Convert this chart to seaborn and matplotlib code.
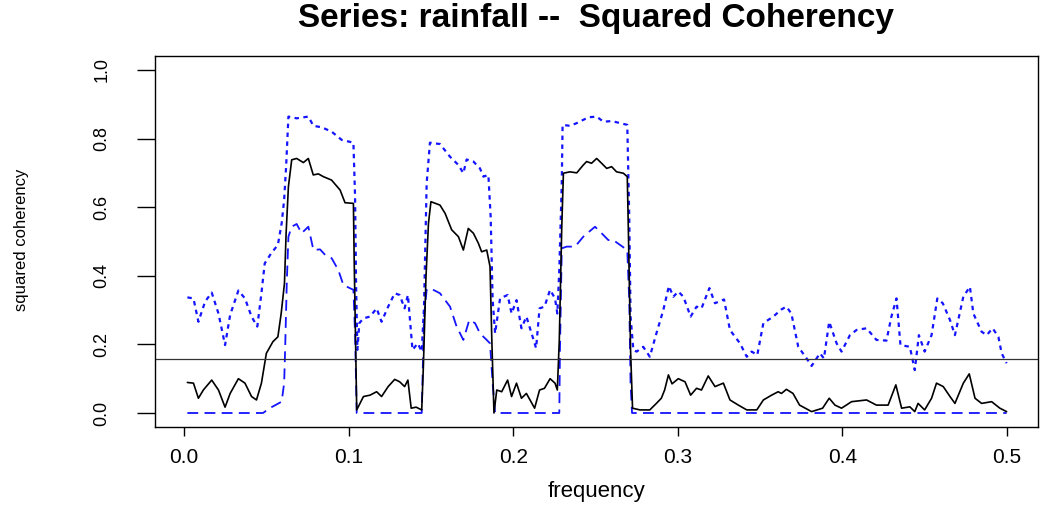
import matplotlib
matplotlib.use("Agg")
import matplotlib.pyplot as plt
import seaborn as sns
import pandas as pd

# ---- data ----
coh_freq = [0.002, 0.0057, 0.0087, 0.0117, 0.0168, 0.0209, 0.0249, 0.028, 0.033, 0.037,
            0.041, 0.044, 0.047, 0.050, 0.054, 0.057, 0.059, 0.061, 0.062, 0.0634,
            0.0654, 0.0684, 0.0725, 0.0755, 0.0785, 0.0816, 0.0846, 0.0896, 0.0948, 0.0978,
            0.1029, 0.1033, 0.1049, 0.109, 0.113, 0.117, 0.120, 0.124, 0.128, 0.131,
            0.134, 0.136, 0.138, 0.141, 0.1444, 0.1454, 0.147, 0.1485, 0.150, 0.1555,
            0.1586, 0.1626, 0.1667, 0.1697, 0.1727, 0.1758, 0.1788, 0.1808, 0.1839, 0.1859,
            0.187, 0.1883, 0.190, 0.193, 0.1966, 0.199, 0.202, 0.205, 0.208, 0.213,
            0.216, 0.219, 0.2224, 0.2254, 0.2268, 0.228, 0.2295, 0.2305, 0.2345, 0.2386,
            0.2426, 0.2446, 0.2476, 0.2507, 0.2537, 0.2568, 0.2598, 0.2628, 0.2669, 0.2693,
            0.270, 0.2713, 0.2725, 0.277, 0.283, 0.287, 0.290, 0.292, 0.2943, 0.2965,
            0.3003, 0.3044, 0.3078, 0.3114, 0.3144, 0.3185, 0.3226, 0.3277, 0.3317, 0.3368,
            0.3419, 0.348, 0.352, 0.357, 0.361, 0.363, 0.366, 0.370, 0.374, 0.3813,
            0.388, 0.392, 0.3955, 0.3995, 0.4056, 0.4147, 0.4207, 0.4278, 0.4325, 0.436,
            0.441, 0.444, 0.446, 0.450, 0.4542, 0.4572, 0.4613, 0.4654, 0.4684, 0.4735,
            0.4771, 0.4806, 0.4846, 0.4907, 0.4957, 0.4998]
coh_val = [0.089, 0.087, 0.043, 0.067, 0.096, 0.067, 0.017, 0.057, 0.100, 0.087,
           0.048, 0.038, 0.087, 0.174, 0.208, 0.222, 0.290, 0.378, 0.524, 0.660,
           0.738, 0.742, 0.730, 0.742, 0.694, 0.697, 0.689, 0.679, 0.650, 0.613,
           0.611, 0.466, 0.009, 0.048, 0.052, 0.062, 0.048, 0.077, 0.098, 0.091,
           0.077, 0.096, 0.014, 0.017, 0.009, 0.135, 0.397, 0.553, 0.616, 0.606,
           0.582, 0.534, 0.514, 0.475, 0.538, 0.524, 0.495, 0.470, 0.475, 0.427,
           0.213, 0.000, 0.067, 0.062, 0.096, 0.048, 0.087, 0.043, 0.057, 0.014,
           0.067, 0.072, 0.100, 0.087, 0.067, 0.213, 0.543, 0.699, 0.703, 0.700,
           0.723, 0.733, 0.728, 0.742, 0.728, 0.713, 0.718, 0.703, 0.699, 0.689,
           0.524, 0.184, 0.014, 0.009, 0.009, 0.028, 0.043, 0.067, 0.111, 0.085,
           0.100, 0.091, 0.052, 0.072, 0.067, 0.108, 0.077, 0.087, 0.038, 0.023,
           0.009, 0.009, 0.038, 0.052, 0.062, 0.057, 0.069, 0.057, 0.023, 0.004,
           0.014, 0.043, 0.023, 0.014, 0.033, 0.038, 0.023, 0.023, 0.082, 0.014,
           0.018, 0.004, 0.028, 0.009, 0.043, 0.087, 0.077, 0.048, 0.028, 0.087,
           0.114, 0.043, 0.028, 0.033, 0.014, 0.004]

upper_freq = [0.002, 0.0057, 0.0087, 0.0128, 0.0168, 0.0209, 0.0249, 0.028, 0.033, 0.037,
              0.041, 0.0445, 0.047, 0.049, 0.053, 0.057, 0.0593, 0.0608, 0.062, 0.0634,
              0.0684, 0.0755, 0.0786, 0.0836, 0.0897, 0.0958, 0.1029, 0.1039, 0.1045, 0.1053,
              0.1065, 0.109, 0.113, 0.117, 0.120, 0.124, 0.128, 0.131, 0.134, 0.136,
              0.1388, 0.142, 0.1444, 0.1458, 0.1474, 0.1494, 0.1555, 0.1616, 0.1667, 0.1697,
              0.1717, 0.1758, 0.1798, 0.1819, 0.1849, 0.1863, 0.1875, 0.189, 0.192, 0.1966,
              0.199, 0.202, 0.205, 0.208, 0.2139, 0.216, 0.219, 0.2224, 0.2254, 0.2268,
              0.228, 0.2295, 0.230, 0.2345, 0.2386, 0.2457, 0.2507, 0.2548, 0.2598, 0.2649,
              0.2693, 0.2705, 0.2713, 0.273, 0.275, 0.279, 0.283, 0.287, 0.2912, 0.2946,
              0.2973, 0.3003, 0.3034, 0.3078, 0.3114, 0.3144, 0.3192, 0.3226, 0.3281, 0.3317,
              0.3378, 0.3419, 0.3449, 0.3483, 0.352, 0.358, 0.363, 0.366, 0.369, 0.3732,
              0.3783, 0.3813, 0.3864, 0.3888, 0.392, 0.3965, 0.3995, 0.4046, 0.4086, 0.4147,
              0.4207, 0.4268, 0.4298, 0.4329, 0.4353, 0.441, 0.444, 0.4465, 0.450, 0.4542,
              0.4577, 0.461, 0.4654, 0.4684, 0.4735, 0.4775, 0.4796, 0.4846, 0.4877, 0.4913,
              0.4948, 0.4968, 0.4998]
upper_val = [0.337, 0.334, 0.266, 0.325, 0.351, 0.290, 0.198, 0.286, 0.357, 0.334,
             0.281, 0.252, 0.349, 0.436, 0.466, 0.490, 0.553, 0.621, 0.718, 0.864,
             0.859, 0.864, 0.837, 0.833, 0.820, 0.796, 0.788, 0.631, 0.378, 0.184,
             0.262, 0.276, 0.281, 0.305, 0.266, 0.310, 0.349, 0.344, 0.305, 0.344,
             0.184, 0.203, 0.179, 0.310, 0.669, 0.788, 0.784, 0.747, 0.723, 0.699,
             0.739, 0.733, 0.713, 0.689, 0.694, 0.572, 0.329, 0.232, 0.334, 0.344,
             0.290, 0.329, 0.247, 0.281, 0.189, 0.305, 0.310, 0.359, 0.334, 0.290,
             0.417, 0.670, 0.840, 0.837, 0.845, 0.862, 0.864, 0.849, 0.851, 0.845,
             0.840, 0.572, 0.281, 0.184, 0.179, 0.193, 0.164, 0.232, 0.300, 0.370,
             0.339, 0.354, 0.339, 0.281, 0.310, 0.305, 0.364, 0.320, 0.331, 0.242,
             0.203, 0.164, 0.179, 0.169, 0.262, 0.281, 0.302, 0.310, 0.290, 0.193,
             0.159, 0.137, 0.174, 0.159, 0.266, 0.203, 0.179, 0.227, 0.242, 0.247,
             0.213, 0.211, 0.281, 0.334, 0.198, 0.193, 0.125, 0.227, 0.179, 0.227,
             0.334, 0.320, 0.271, 0.227, 0.339, 0.368, 0.290, 0.237, 0.227, 0.247,
             0.222, 0.174, 0.145]

lower_freq = [0.002, 0.048, 0.052, 0.0593, 0.0608, 0.0614, 0.0624, 0.0634, 0.0654, 0.0684,
              0.0714, 0.0755, 0.0786, 0.0826, 0.0857, 0.0897, 0.0937, 0.0968, 0.1029, 0.1039,
              0.1049, 0.1444, 0.1458, 0.1474, 0.1494, 0.1555, 0.1616, 0.1656, 0.1697, 0.1733,
              0.1768, 0.1798, 0.1839, 0.1859, 0.1875, 0.189, 0.228, 0.2284, 0.2295, 0.2325,
              0.2376, 0.2426, 0.2497, 0.2537, 0.2578, 0.2608, 0.2649, 0.2693, 0.2705, 0.2713,
              0.2722, 0.4998]
lower_val = [0.000, 0.000, 0.014, 0.033, 0.087, 0.184, 0.378, 0.514, 0.543, 0.551,
             0.524, 0.543, 0.475, 0.477, 0.461, 0.451, 0.417, 0.373, 0.359, 0.232,
             0.000, 0.000, 0.281, 0.359, 0.364, 0.349, 0.310, 0.252, 0.213, 0.271,
             0.262, 0.232, 0.213, 0.203, 0.087, 0.000, 0.000, 0.184, 0.480, 0.485,
             0.485, 0.514, 0.543, 0.524, 0.504, 0.504, 0.490, 0.475, 0.329, 0.087,
             0.000, 0.000]

threshold = 0.157

title_text = "Series: rainfall --  Squared Coherency"
x_label = "frequency"
y_label = "squared coherency"
x_ticks = [0.0, 0.1, 0.2, 0.3, 0.4, 0.5]
y_ticks = [0.0, 0.2, 0.4, 0.6, 0.8, 1.0]

# ---- figure ----
sns.set_style("white")
plt.rcParams["font.family"] = ["Liberation Sans", "DejaVu Sans"]
plt.rcParams["text.color"] = "black"
plt.rcParams["axes.labelcolor"] = "black"
plt.rcParams["xtick.color"] = "black"
plt.rcParams["ytick.color"] = "black"

fig = plt.figure(figsize=(10.41, 5.08), dpi=100)
ax = fig.add_axes([0.149, 0.160, 0.848, 0.730])

coh_df = pd.DataFrame({"frequency": coh_freq, "value": coh_val})
up_df = pd.DataFrame({"frequency": upper_freq, "value": upper_val})
lo_df = pd.DataFrame({"frequency": lower_freq, "value": lower_val})

sns.lineplot(data=up_df, x="frequency", y="value", ax=ax, estimator=None, sort=False,
             color="#1414ff", linewidth=1.6, linestyle=(0, (2.0, 2.0)))
sns.lineplot(data=lo_df, x="frequency", y="value", ax=ax, estimator=None, sort=False,
             color="#1414ff", linewidth=1.3, linestyle=(0, (6.0, 3.5)))
sns.lineplot(data=coh_df, x="frequency", y="value", ax=ax, estimator=None, sort=False,
             color="black", linewidth=1.2)
ax.axhline(threshold, color="#333333", linewidth=0.9)

ax.set_xlim(-0.0176, 0.5188)
ax.set_ylim(-0.040, 1.041)
ax.set_xticks(x_ticks)
ax.set_xticklabels([f"{t:.1f}" for t in x_ticks])
ax.set_yticks(y_ticks)
ax.set_yticklabels([f"{t:.1f}" for t in y_ticks], rotation=90, va="center")

for s in ax.spines.values():
    s.set_visible(True)
    s.set_color("black")
    s.set_linewidth(1.0)

ax.tick_params(axis="y", direction="out", length=13, width=1.0, pad=19,
               labelsize=13, colors="black", left=True)
ax.tick_params(axis="x", direction="out", length=6.5, width=1.0, pad=9,
               labelsize=15, colors="black", bottom=True)

ax.set_xlabel("")
ax.set_ylabel("")
fig.text(596 / 1041, 1 - 492 / 508, x_label, ha="center", va="center", fontsize=16,
         color="black")
fig.text(22 / 1041, 1 - 240 / 508, y_label, ha="center", va="center", fontsize=12,
         rotation=90, color="black")
fig.text(596 / 1041, 1 - 18 / 508, title_text, ha="center", va="center",
         fontsize=24, fontweight="bold", color="black")

fig.savefig("out.png", dpi=100)
